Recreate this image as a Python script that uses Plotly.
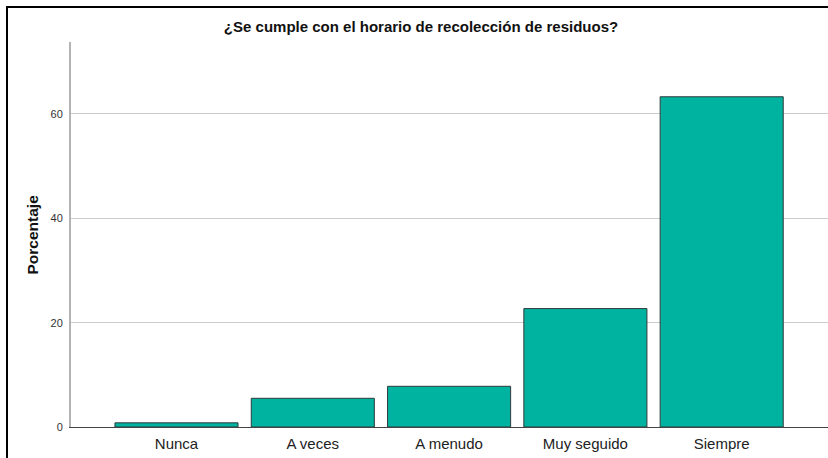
import plotly.graph_objects as go

categories = ["Nunca", "A veces", "A menudo", "Muy seguido", "Siempre"]
percentages = [0.8, 5.5, 7.8, 22.7, 63.3]
y_ticks = [0, 20, 40, 60]
title_text = "¿Se cumple con el horario de recolección de residuos?"
y_title = "Porcentaje"

W, H = 828, 458
L, R, T, B = 71, 0, 42, 31
plot_w = W - L - R
plot_h = H - T - B

fig = go.Figure(
    go.Bar(
        x=categories,
        y=percentages,
        marker=dict(color="#00B2A0", line=dict(color="#2f3b3a", width=1)),
        width=0.903,
        hoverinfo="x+y",
    )
)

fig.update_layout(
    width=W,
    height=H,
    margin=dict(l=L, r=R, t=T, b=B, pad=0),
    paper_bgcolor="white",
    plot_bgcolor="white",
    showlegend=False,
    font=dict(family="Liberation Sans, Arial, sans-serif", color="#222"),
    title=dict(
        text="<b>" + title_text + "</b>",
        x=421 / W,
        xanchor="center",
        y=1 - 27 / H,
        yanchor="middle",
        font=dict(size=15, color="#111"),
    ),
    xaxis=dict(
        range=[-0.774, 4.78],
        showgrid=False,
        showline=True,
        linecolor="#444",
        linewidth=1,
        ticks="",
        tickfont=dict(size=15, color="#222"),
        ticklabelstandoff=3,
        fixedrange=True,
    ),
    yaxis=dict(
        range=[0, 73.8],
        tickvals=y_ticks,
        ticktext=[str(v) for v in y_ticks],
        showgrid=True,
        gridcolor="#cccccc",
        gridwidth=1,
        zeroline=False,
        showline=True,
        linecolor="#b4b4b4",
        linewidth=2,
        ticks="",
        tickfont=dict(size=11, color="#333"),
        ticklabelstandoff=4,
        fixedrange=True,
    ),
    annotations=[
        dict(
            text="<b>" + y_title + "</b>",
            xref="paper",
            yref="paper",
            x=(32 - L) / plot_w,
            y=0.5,
            xanchor="center",
            yanchor="middle",
            textangle=-90,
            showarrow=False,
            font=dict(size=15.5, color="#111"),
        )
    ],
    shapes=[
        dict(
            type="line",
            xref="paper",
            yref="paper",
            x0=(7 - L) / plot_w,
            x1=(7 - L) / plot_w,
            y0=-0.2,
            y1=(H - B - 7) / plot_h,
            line=dict(color="black", width=2),
            layer="above",
        ),
        dict(
            type="line",
            xref="paper",
            yref="paper",
            x0=(6 - L) / plot_w,
            x1=1.1,
            y0=(H - B - 7) / plot_h,
            y1=(H - B - 7) / plot_h,
            line=dict(color="black", width=2),
            layer="above",
        ),
    ],
)

fig.write_html(
    "out.html",
    config={"displayModeBar": False},
    post_script="document.body.style.margin='0';document.body.style.overflow='hidden';",
)
